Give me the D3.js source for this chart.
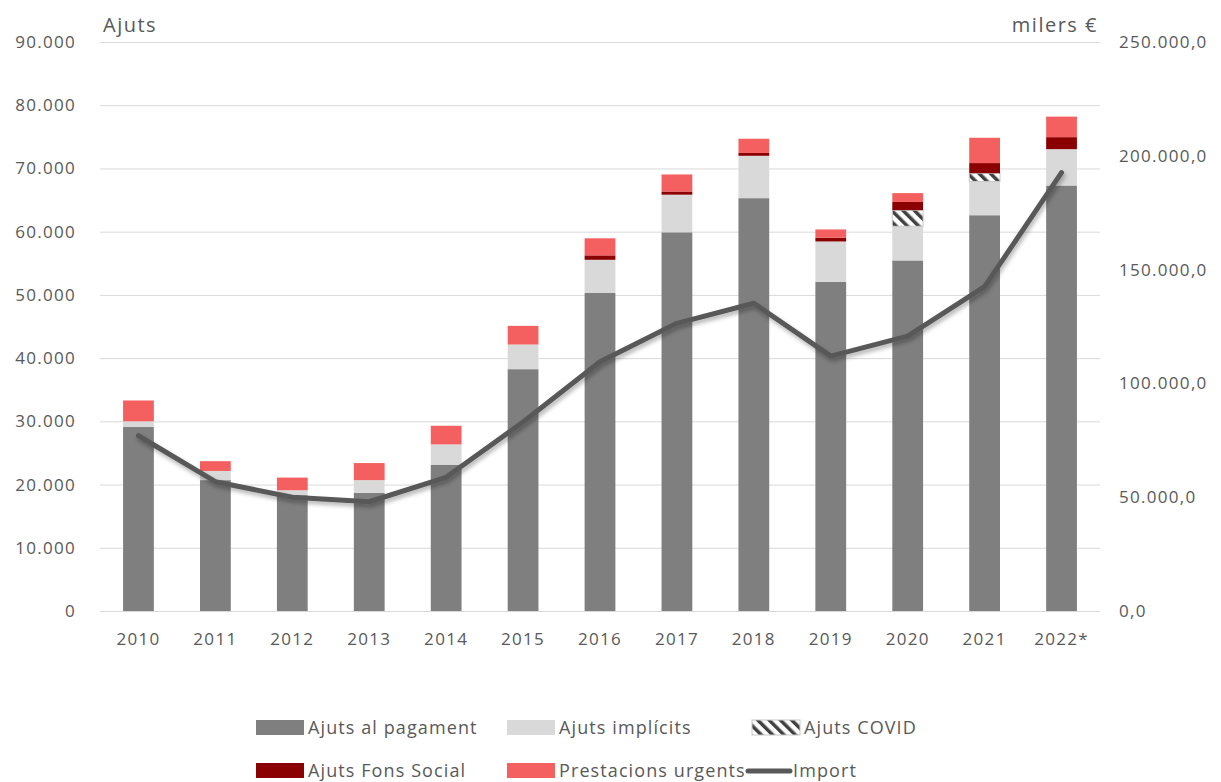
<!DOCTYPE html>
<html>
<head>
<meta charset="utf-8">
<script src="https://cdn.jsdelivr.net/npm/d3@7"></script>
<style>
  body { margin: 0; background: #fff; }
  text { font-family: "Open Sans", sans-serif; fill: #595959; }
</style>
</head>
<body>
<script>
var years = ['2010', '2011', '2012', '2013', '2014', '2015', '2016', '2017', '2018', '2019', '2020', '2021', '2022*'];
var pagament = [29100, 20700, 18300, 18700, 23150, 38250, 50300, 59900, 65300, 52050, 55450, 62600, 67300];
var implicits = [900, 1450, 800, 2000, 3200, 3900, 5250, 5950, 6700, 6400, 5400, 5350, 5750];
var covid = [0, 0, 0, 0, 0, 0, 0, 0, 0, 0, 2550, 1300, 0];
var fonsSocial = [0, 0, 0, 0, 0, 0, 700, 500, 450, 600, 1300, 1600, 1900];
var urgents = [3300, 1550, 2000, 2700, 2950, 2950, 2700, 2700, 2250, 1300, 1400, 4000, 3250];
var importMilers = [77000, 56800, 50000, 48000, 58750, 83000, 109500, 126400, 135200, 112000, 120800, 142500, 192600];
var leftTicks = [0, 10000, 20000, 30000, 40000, 50000, 60000, 70000, 80000, 90000];
var rightTicks = [0, 50000, 100000, 150000, 200000, 250000];

var series = [
    {key: 'pagament', name: 'Ajuts al pagament', values: pagament, fill: '#7f7f7f'},
    {key: 'implicits', name: 'Ajuts implícits', values: implicits, fill: '#d9d9d9'},
    {key: 'covid', name: 'Ajuts COVID', values: covid, fill: 'url(#hatch)'},
    {key: 'fons', name: 'Ajuts Fons Social', values: fonsSocial, fill: '#8b0000'},
    {key: 'urgents', name: 'Prestacions urgents', values: urgents, fill: '#f4605f'}
];

var width = 1221, height = 782;
var margin = {top: 42, right: 121, bottom: 171, left: 100};

var loc = d3.formatLocale({decimal: ',', thousands: '.', grouping: [3], currency: ['', '€']});
var fmtLeft = loc.format(',.0f');
var fmtRight = loc.format(',.1f');

var svg = d3.select('body')
    .append('svg')
    .attr('width', width)
    .attr('height', height);

var defs = svg.append('defs');
var hatch = defs.append('pattern')
    .attr('id', 'hatch')
    .attr('patternUnits', 'userSpaceOnUse')
    .attr('width', 8)
    .attr('height', 8)
    .attr('patternTransform', 'rotate(-45)');
hatch.append('rect').attr('width', 8).attr('height', 8).attr('fill', '#fff');
hatch.append('rect').attr('width', 3.5).attr('height', 8).attr('fill', '#404040');

var shadow = defs.append('filter')
    .attr('id', 'shadow')
    .attr('x', '-10%').attr('y', '-10%')
    .attr('width', '120%').attr('height', '130%');
shadow.append('feDropShadow')
    .attr('dx', 1.5).attr('dy', 3)
    .attr('stdDeviation', 2)
    .attr('flood-color', '#000')
    .attr('flood-opacity', 0.3);

var x = d3.scaleBand()
    .domain(years)
    .range([margin.left, width - margin.right])
    .paddingInner(0.6)
    .paddingOuter(0.3);

var y = d3.scaleLinear()
    .domain([0, 90000])
    .range([height - margin.bottom, margin.top]);

var y2 = d3.scaleLinear()
    .domain([0, 250000])
    .range([height - margin.bottom, margin.top]);

// gridlines
svg.append('g')
    .selectAll('line')
    .data(leftTicks)
    .enter()
    .append('line')
    .attr('x1', margin.left)
    .attr('x2', width - margin.right)
    .attr('y1', function(d) { return y(d) + 0.5; })
    .attr('y2', function(d) { return y(d) + 0.5; })
    .attr('stroke', '#d9d9d9')
    .attr('stroke-width', 1);

function styleTicks(g) {
    g.select('.domain').remove();
    g.selectAll('text')
        .style('font-size', '17px')
        .style('letter-spacing', '1.3px')
        .attr('fill', '#595959');
}

// left axis
svg.append('g')
    .attr('transform', 'translate(' + (margin.left - 24) + ',0)')
    .call(d3.axisLeft(y).tickValues(leftTicks).tickFormat(fmtLeft).tickSize(0).tickPadding(0))
    .call(styleTicks);

// right axis
svg.append('g')
    .attr('transform', 'translate(' + (width - margin.right + 19) + ',0)')
    .call(d3.axisRight(y2).tickValues(rightTicks).tickFormat(fmtRight).tickSize(0).tickPadding(0))
    .call(styleTicks);

// bottom axis
svg.append('g')
    .attr('transform', 'translate(0,' + (height - margin.bottom + 22) + ')')
    .call(d3.axisBottom(x).tickSize(0).tickPadding(0))
    .call(styleTicks);

svg.append('text')
    .attr('x', 103)
    .attr('y', 32)
    .style('font-size', '20px')
    .style('letter-spacing', '1.5px')
    .text('Ajuts');

svg.append('text')
    .attr('x', 1098)
    .attr('y', 32)
    .attr('text-anchor', 'end')
    .style('font-size', '20px')
    .style('letter-spacing', '1.5px')
    .text('milers €');

// stacked bars
var table = years.map(function(yr, i) {
    var row = {year: yr};
    series.forEach(function(s) { row[s.key] = s.values[i]; });
    return row;
});
var stack = d3.stack().keys(series.map(function(s) { return s.key; }));
var stacked = stack(table);

var layers = svg.append('g')
    .selectAll('g')
    .data(stacked)
    .enter()
    .append('g')
    .attr('fill', function(d, i) { return series[i].fill; });

layers.selectAll('rect')
    .data(function(d) { return d.filter(function(p) { return p[1] - p[0] > 0; }); })
    .enter()
    .append('rect')
    .attr('x', function(d) { return x(d.data.year); })
    .attr('width', x.bandwidth())
    .attr('y', function(d) { return y(d[1]); })
    .attr('height', function(d) { return y(d[0]) - y(d[1]); });

layers.filter(function(d) { return d.key === 'covid'; })
    .selectAll('rect')
    .attr('stroke', '#c8c8c8')
    .attr('stroke-width', 1);

// import line
var line = d3.line()
    .x(function(d, i) { return x(years[i]) + x.bandwidth() / 2; })
    .y(function(d) { return y2(d); });

svg.append('path')
    .datum(importMilers)
    .attr('d', line)
    .attr('fill', 'none')
    .attr('stroke', '#595959')
    .attr('stroke-width', 5)
    .attr('stroke-linejoin', 'round')
    .attr('stroke-linecap', 'round')
    .attr('filter', 'url(#shadow)');

// legend
var legendItems = [
    {name: series[0].name, fill: series[0].fill, x: 256, y: 728},
    {name: series[1].name, fill: series[1].fill, x: 507, y: 728},
    {name: series[2].name, fill: series[2].fill, x: 752, y: 728},
    {name: series[3].name, fill: series[3].fill, x: 256, y: 771},
    {name: series[4].name, fill: series[4].fill, x: 507, y: 771}
];

var legend = svg.append('g');
var items = legend.selectAll('g')
    .data(legendItems)
    .enter()
    .append('g')
    .attr('transform', function(d) { return 'translate(' + d.x + ',' + d.y + ')'; });

items.append('rect')
    .attr('x', 0)
    .attr('y', -8)
    .attr('width', 48)
    .attr('height', 15)
    .attr('fill', function(d) { return d.fill; })
    .attr('stroke', function(d) { return d.fill === 'url(#hatch)' ? '#c8c8c8' : 'none'; });

items.append('text')
    .attr('x', 52)
    .attr('y', 6)
    .style('font-size', '18px')
    .style('letter-spacing', '1.1px')
    .text(function(d) { return d.name; });

var lineItem = legend.append('g').attr('transform', 'translate(748,771)');
lineItem.append('line')
    .attr('x1', 0).attr('x2', 42)
    .attr('stroke', '#595959')
    .attr('stroke-width', 5)
    .attr('stroke-linecap', 'round');
lineItem.append('text')
    .attr('x', 45)
    .attr('y', 6)
    .style('font-size', '18px')
    .style('letter-spacing', '1.1px')
    .text('Import');
</script>
</body>
</html>
